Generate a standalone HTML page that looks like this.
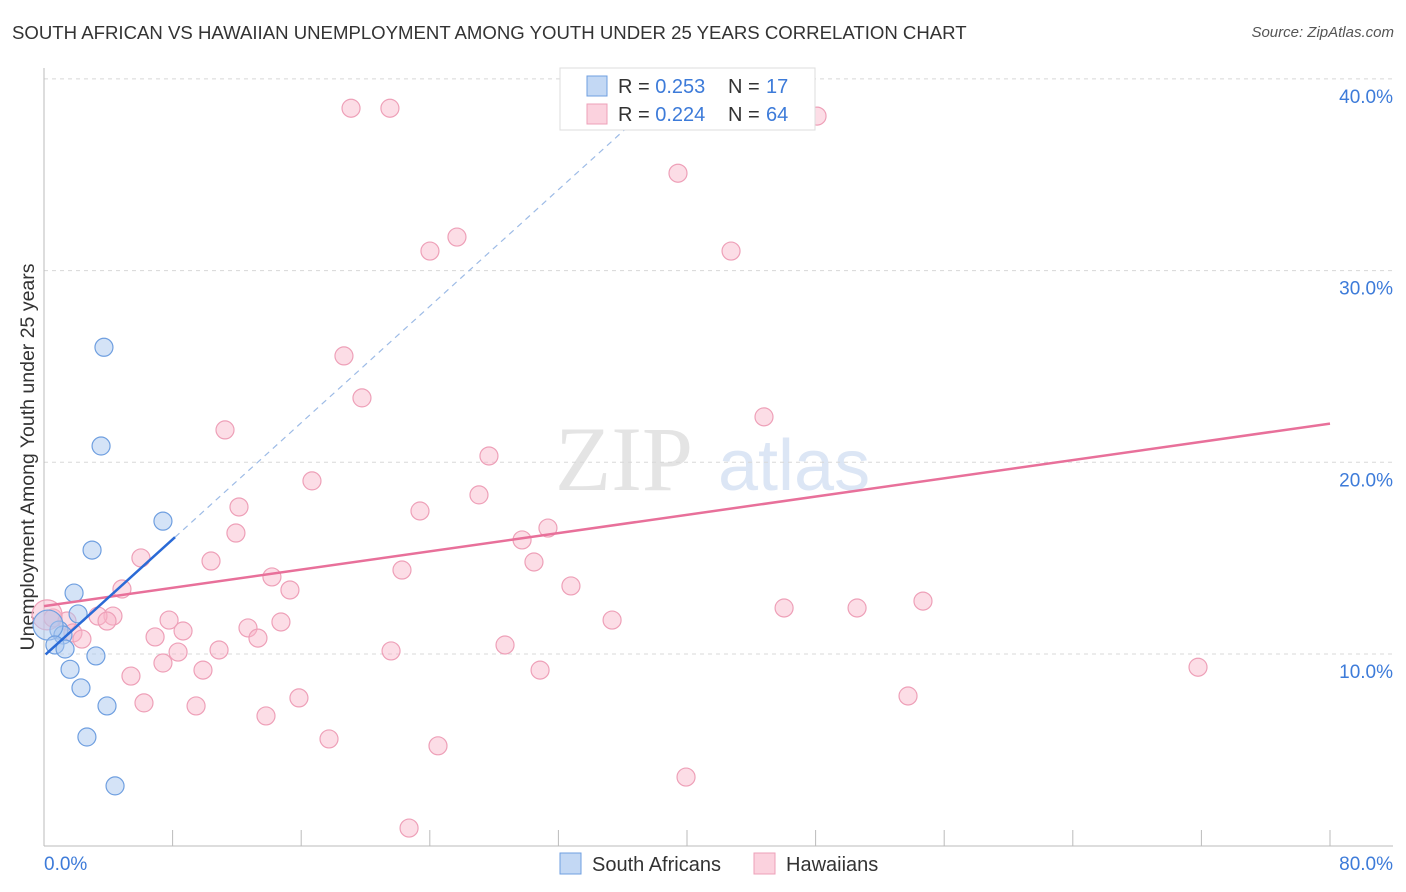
<!DOCTYPE html>
<html><head><meta charset="utf-8">
<style>
body{margin:0;background:#fff;font-family:"Liberation Sans",sans-serif;}
#wrap{position:relative;width:1406px;height:892px;overflow:hidden;}
.t{position:absolute;white-space:nowrap;}
</style></head>
<body>
<div id="wrap">
<div class="t" style="left:12px;top:22px;font-size:18.6px;color:#333;">SOUTH AFRICAN VS HAWAIIAN UNEMPLOYMENT AMONG YOUTH UNDER 25 YEARS CORRELATION CHART</div>
<div class="t" style="right:12px;top:24px;font-size:15px;color:#555;font-style:italic;">Source: ZipAtlas.com</div>
<svg id="svg" width="1406" height="892" style="position:absolute;left:0;top:0"></svg>
</div>
<script>
const yTicks=[10,20,30,40];
const yTickLabels=["10.0%","20.0%","30.0%","40.0%"];
const xTicks=[0,8,16,24,32,40,48,56,64,72,80];
const blueX=[3.73,3.55,7.40,2.99,1.87,2.12,0.93,1.18,0.25,0.68,1.31,3.23,1.62,2.30,3.92,2.67,4.42];
const blueY=[26.0,20.85,16.93,15.42,13.18,12.09,11.25,10.99,11.51,10.47,10.26,9.9,9.2,8.23,7.29,5.67,3.12];
const blueBig=[0,0,0,0,0,0,0,0,1,0,0,0,0,0,0,0,0];
const pinkX=[19.1,21.52,48.09,39.44,25.69,24.01,42.74,18.66,19.78,44.79,11.26,27.68,16.67,27.06,12.13,23.39,31.35,11.94,29.74,6.03,10.39,30.48,22.27,14.18,32.78,15.30,4.85,54.68,46.04,50.58,4.29,3.36,3.92,7.78,35.34,14.74,1.43,0.56,12.69,8.65,1.80,6.91,13.31,2.36,28.68,10.89,21.59,8.34,7.40,9.89,30.86,71.79,5.41,15.86,53.75,6.22,9.46,13.81,17.73,24.51,39.94,22.71,0.19];
const pinkY=[38.47,38.47,38.06,35.08,31.75,31.02,31.02,25.55,23.36,22.37,21.69,20.33,19.03,18.30,17.67,17.46,16.57,16.31,15.95,15.01,14.85,14.80,14.38,14.02,13.55,13.34,13.39,12.76,12.40,12.40,11.98,11.98,11.72,11.77,11.77,11.67,11.72,11.88,11.36,11.20,11.10,10.89,10.83,10.78,10.47,10.21,10.16,10.10,9.53,9.16,9.16,9.31,8.85,7.71,7.81,7.45,7.29,6.77,5.57,5.21,3.58,0.92,12.04];
const blueFit=[9.9,0.76];
const pinkFit=[12.5,0.119];
const blueFitRange=[0.1,8.15,40.5];

const X0=44,X1=1330,Y0=845.7,PY=19.17;
const xs=v=>X0+(v/80)*(X1-X0);
const ys=v=>Y0-v*PY;
const svg=document.getElementById('svg');
const NS='http://www.w3.org/2000/svg';
function mk(tag,at,parent){const e=document.createElementNS(NS,tag);for(const k in at)e.setAttribute(k,at[k]);(parent||svg).appendChild(e);return e;}

let w=mk('text',{x:555,y:490,'font-size':92,'font-family':'Liberation Serif,serif',fill:'#e4e4e4'});w.textContent='ZIP';


let w2=mk('text',{x:718,y:490,'font-size':72,'font-family':'Liberation Sans,sans-serif',fill:'#dce6f5'});w2.textContent='atlas';



yTicks.forEach((t,i)=>{
  const g=mk('line',{x1:44,x2:1393,y1:ys(t),y2:ys(t),stroke:'#d8d8d8','stroke-dasharray':'4,4'});
  
  
  const l=mk('text',{x:1393,y:ys(t)+24,'text-anchor':'end','font-size':19,fill:'#3d7bd9'});
  l.textContent=yTickLabels[i];
  
  
});
let ax=mk('line',{x1:44,x2:44,y1:68,y2:846,stroke:'#bbb'});


let bx=mk('line',{x1:44,x2:1393,y1:846,y2:846,stroke:'#bbb'});


xTicks.forEach(t=>{
  const k=mk('line',{x1:xs(t),x2:xs(t),y1:830,y2:846,stroke:'#bbb'});
  
  
});
let xl0=mk('text',{x:44,y:870,'font-size':19,fill:'#3d7bd9'});xl0.textContent='0.0%';


let xl1=mk('text',{x:1393,y:870,'text-anchor':'end','font-size':19,fill:'#3d7bd9'});xl1.textContent='80.0%';


let yt=mk('text',{x:34,y:457,'font-size':19.5,fill:'#333','text-anchor':'middle',transform:'rotate(-90 34 457)'});
yt.textContent='Unemployment Among Youth under 25 years';



pinkX.forEach((v,i)=>{
  const c=mk('circle',{cx:xs(v),cy:ys(pinkY[i]),r:(i==pinkX.length-1?15:9),fill:'rgba(248,180,200,0.45)',stroke:'#eea0b8','stroke-width':1.2});
  
  
});
blueX.forEach((v,i)=>{
  const c=mk('circle',{cx:xs(v),cy:ys(blueY[i]),r:blueBig[i]?15:9,fill:'rgba(170,200,240,0.5)',stroke:'#6f9fe0','stroke-width':1.2});
  
  
});
let pl=mk('line',{x1:xs(0),y1:ys(pinkFit[0]),x2:xs(80),y2:ys(pinkFit[0]+pinkFit[1]*80),stroke:'#e8709a','stroke-width':2.5});


const bf=v=>blueFit[0]+blueFit[1]*v;
let bd=mk('line',{x1:xs(blueFitRange[1]),y1:ys(bf(blueFitRange[1])),x2:xs(blueFitRange[2]),y2:ys(bf(blueFitRange[2])),stroke:'#9dbbe6','stroke-width':1.2,'stroke-dasharray':'6,5'});


let bl=mk('line',{x1:xs(blueFitRange[0]),y1:ys(bf(blueFitRange[0])),x2:xs(blueFitRange[1]),y2:ys(bf(blueFitRange[1])),stroke:'#2a6ad6','stroke-width':2.5});



let lb=mk('rect',{x:560,y:68,width:255,height:62,fill:'#fff',stroke:'#ddd'});


[[0,'rgba(170,200,240,0.7)','#6f9fe0','0.253','17'],[1,'rgba(248,180,200,0.6)','#eea0b8','0.224','64']].forEach(r=>{
  const y=76+r[0]*28;
  const s=mk('rect',{x:587,y:y,width:20,height:20,fill:r[1],stroke:r[2]});
  
  
  const t=mk('text',{x:618,y:y+17,'font-size':20,fill:'#333'});
  t.innerHTML='R = <tspan fill="#3d7bd9">'+r[3]+'</tspan><tspan x="728">N = </tspan><tspan x="766" fill="#3d7bd9">'+r[4]+'</tspan>';
  
  
});
[[560,'rgba(170,200,240,0.7)','#6f9fe0','South Africans'],[754,'rgba(248,180,200,0.6)','#eea0b8','Hawaiians']].forEach(r=>{
  const s=mk('rect',{x:r[0],y:853,width:21,height:21,fill:r[1],stroke:r[2]});
  
  
  const t=mk('text',{x:r[0]+32,y:871,'font-size':20,fill:'#333'});
  t.textContent=r[3];
  
  
});
</script>
</body></html>
